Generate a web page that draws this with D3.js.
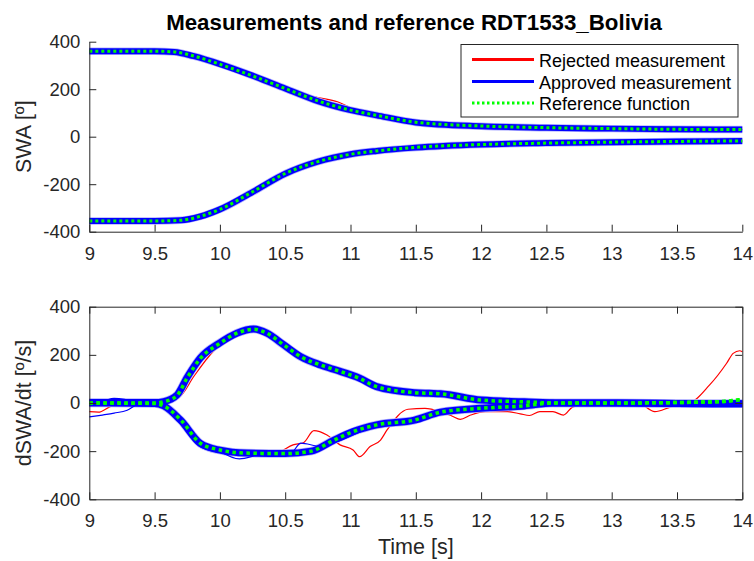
<!DOCTYPE html>
<html>
<head>
<meta charset="utf-8">
<script src="https://cdn.jsdelivr.net/npm/d3@7"></script>
<style>
    body { margin: 0; background: #fff; }
    svg { font-family: "Liberation Sans", Arial, sans-serif; }
</style>
</head>
<body>
<svg id="chart" width="754" height="561"></svg>
<script>

// ---- data (time [s], value) ----

const xTicks = [9, 9.5, 10, 10.5, 11, 11.5, 12, 12.5, 13, 13.5, 14]
const xTickLabels = ['9', '9.5', '10', '10.5', '11', '11.5', '12', '12.5', '13', '13.5', '14']
const yTicks = [-400, -200, 0, 200, 400]
const yTickLabels = ['-400', '-200', '0', '200', '400']

const legendLabels = ['Rejected measurement', 'Approved measurement', 'Reference function']

// SWA [deg]
const swaRejectedUp = [[9, 360], [9.5, 360], [9.65, 357], [9.8, 340], [10, 305], [10.25, 255], [10.5, 203], [10.6, 185],
    [10.75, 165], [10.9, 147], [11.05, 110], [11.2, 90], [11.5, 62], [12, 45], [12.5, 32], [13, 24], [13.5, 21], [13.75, 20], [14, 30]]
const swaRejectedLow = [[9, -355], [9.5, -355], [9.7, -352], [9.85, -335], [10, -306], [10.25, -232], [10.5, -156],
    [10.75, -105], [11, -74], [11.2, -60], [11.5, -45], [12, -33], [12.5, -27], [13, -23], [13.5, -20], [14, -18]]
const swaApprovedUp = [[9, 360], [9.5, 360], [9.65, 357], [9.8, 339], [10, 306], [10.25, 257], [10.5, 203], [10.75, 150],
    [11, 112], [11.2, 90], [11.5, 60], [12, 44], [12.5, 38], [13, 34], [13.5, 31], [14, 30]]
const swaApprovedLow = [[9, -355], [9.5, -355], [9.7, -352], [9.85, -336], [10, -306], [10.25, -233], [10.5, -156],
    [10.75, -105], [11, -74], [11.2, -60], [11.5, -46], [12, -33], [12.5, -27], [13, -23], [13.5, -20], [14, -18]]
const swaReferenceUp = [[9, 360], [9.5, 360], [9.65, 357], [9.8, 340], [10, 305], [10.25, 256], [10.5, 203], [10.75, 151],
    [11, 112], [11.2, 90], [11.5, 61], [12, 45], [12.5, 38], [13, 34], [13.5, 31], [14, 30]]
const swaReferenceLow = [[9, -355], [9.5, -355], [9.7, -352], [9.85, -335], [10, -306], [10.25, -232], [10.5, -155],
    [10.75, -105], [11, -74], [11.2, -60], [11.5, -45], [12, -33], [12.5, -27], [13, -23], [13.5, -20], [14, -18]]

// dSWA/dt [deg/s]
const rateRejectedUp = [[9, 0], [9.5, 0], [9.6, 8], [9.7, 30], [9.8, 110], [9.95, 215], [10.1, 278], [10.25, 300], [10.35, 295],
    [10.5, 245], [10.65, 195], [10.8, 152], [10.95, 125], [11.1, 95], [11.3, 62], [11.5, 45], [11.7, 38], [12.05, 22],
    [12.3, 5], [12.6, 0], [13, 0], [13.4, 0], [13.59, 2], [13.75, 75], [13.88, 165], [13.93, 206], [13.98, 217], [14, 213]]
const rateRejectedLow = [[9, -36], [9.07, -38], [9.16, -15], [9.24, -4], [9.5, -2], [9.57, -12], [9.7, -70], [9.85, -165],
    [10, -195], [10.2, -210], [10.3, -222], [10.46, -202], [10.56, -174], [10.64, -165], [10.72, -115], [10.82, -133],
    [10.92, -174], [11.02, -195], [11.07, -223], [11.15, -181], [11.23, -154], [11.28, -112], [11.44, -26], [11.57, -22],
    [11.69, -36], [11.78, -55], [11.84, -68], [11.92, -50], [12.03, -36], [12.2, -36], [12.3, -45], [12.37, -52],
    [12.45, -36], [12.55, -36], [12.63, -50], [12.7, -17], [12.83, -2], [13.2, 0], [13.33, -36], [13.45, -17], [13.57, 0], [14, 0]]
const rateApprovedUp = [[9, 2], [9.5, 2], [9.57, 6], [9.67, 32], [9.75, 107], [9.85, 187], [10, 250], [10.13, 290],
    [10.26, 307], [10.36, 290], [10.49, 241], [10.62, 192], [10.77, 158], [10.87, 140], [11.07, 103], [11.2, 68],
    [11.49, 43], [11.6, 40], [11.69, 38], [12, 12], [12.33, 5], [12.6, 0], [13, 0], [13.5, -2], [14, -3]]
const rateApprovedLow = [[9, 0], [9.5, -2], [9.57, -12], [9.7, -72], [9.85, -168], [10, -196], [10.2, -208], [10.5, -210],
    [10.7, -200], [10.87, -155], [11.02, -119], [11.2, -91], [11.49, -71], [11.69, -38], [12, -22], [12.33, -12],
    [12.55, 0], [13, 0], [13.5, -2], [14, -3]]
const rateApprovedA = [[9, -58], [9.1, -50], [9.19, -42], [9.29, -30], [9.37, -6], [9.45, 0], [9.55, -4]]
const rateApprovedB = [[9, 5], [9.1, 8], [9.19, 19], [9.27, 15], [9.35, 5], [9.45, 2]]
const rateApprovedC = [[10, -200], [10.15, -232], [10.3, -215], [10.45, -207], [10.54, -209], [10.62, -167],
    [10.77, -180], [10.9, -160], [11.05, -125], [11.2, -92]]
const rateApprovedD = [[9.55, -8], [9.7, -88], [9.85, -182], [10, -205], [10.15, -212]]
const rateReferenceUp = [[9, 0], [9.5, 0], [9.57, 5], [9.67, 30], [9.75, 105], [9.85, 185], [10, 248], [10.13, 290],
    [10.26, 306], [10.36, 290], [10.49, 241], [10.62, 192], [10.77, 158], [10.87, 140], [11.07, 102], [11.2, 68],
    [11.49, 43], [11.69, 38], [12, 12], [12.33, 5], [12.6, 0], [13, 0], [13.8, 5], [14, 15]]
const rateReferenceLow = [[9, 0], [9.5, -2], [9.57, -12], [9.7, -70], [9.85, -167], [10, -195], [10.2, -208], [10.5, -210],
    [10.7, -200], [10.87, -155], [11.02, -119], [11.2, -91], [11.49, -71], [11.69, -38], [12, -22], [12.33, -12],
    [12.55, 0], [13, 0], [13.8, 5], [14, 15]]

// ---- drawing ----

const RED = '#ff0000', BLUE = '#0000ff', GREEN = '#00ff00', AXIS = '#262626', HALO = '#b4b4ff'

const svg = d3.select('#chart')

const x = d3.scaleLinear().domain([9, 14]).range([89.3, 742.3])
const yTop = d3.scaleLinear().domain([-400, 400]).range([231.7, 41.7])
const yBot = d3.scaleLinear().domain([-400, 400]).range([499.3, 306.7])

function drawLine(g, data, y, color, width, dash) {
    let line = d3.line()
        .x(d => x(d[0]))
        .y(d => y(d[1]))
        .curve(d3.curveMonotoneX)
    g.append('path')
        .attr('d', line(data))
        .attr('fill', 'none')
        .attr('stroke', color)
        .attr('stroke-width', width)
        .attr('stroke-dasharray', dash || null)
        .attr('stroke-linejoin', 'round')
}

function styleAxis(g, showText) {
    g.select('.domain').attr('stroke', AXIS).attr('stroke-width', 1)
    g.selectAll('.tick line').attr('stroke', AXIS).attr('stroke-width', 1)
    g.selectAll('.tick text')
        .attr('fill', AXIS)
        .attr('font-size', '18.5px')
        .attr('font-family', '"Liberation Sans", Arial, sans-serif')
        .style('display', showText ? null : 'none')
}

function xAxis(g, yPos, axisFn, showText) {
    g.append('g')
        .attr('transform', `translate(0,${yPos})`)
        .call(axisFn(x).tickValues(xTicks).tickFormat((d, i) => xTickLabels[i])
            .tickSizeInner(-7).tickSizeOuter(0).tickPadding(15))
        .call(a => styleAxis(a, showText))
}

function yAxis(g, y, xPos, axisFn, showText) {
    g.append('g')
        .attr('transform', `translate(${xPos},0)`)
        .call(axisFn(y).tickValues(yTicks).tickFormat((d, i) => yTickLabels[i])
            .tickSizeInner(-7).tickSizeOuter(0).tickPadding(9))
        .call(a => styleAxis(a, showText))
}

// top subplot
let topPlot = svg.append('g')
drawLine(topPlot, swaRejectedUp, yTop, RED, 1.2)
drawLine(topPlot, swaRejectedLow, yTop, RED, 1.2)
drawLine(topPlot, swaApprovedUp, yTop, HALO, 7.5)
drawLine(topPlot, swaApprovedLow, yTop, HALO, 7.5)
drawLine(topPlot, swaApprovedUp, yTop, BLUE, 6)
drawLine(topPlot, swaApprovedLow, yTop, BLUE, 6)
drawLine(topPlot, swaReferenceUp, yTop, GREEN, 3, '3,3')
drawLine(topPlot, swaReferenceLow, yTop, GREEN, 3, '3,3')

xAxis(topPlot, yTop(-400), d3.axisBottom, true)
yAxis(topPlot, yTop, x(9), d3.axisLeft, true)

// bottom subplot
let botPlot = svg.append('g')
drawLine(botPlot, rateRejectedUp, yBot, RED, 1.2)
drawLine(botPlot, rateRejectedLow, yBot, RED, 1.2)
drawLine(botPlot, rateApprovedUp, yBot, HALO, 8.5)
drawLine(botPlot, rateApprovedLow, yBot, HALO, 8.5)
drawLine(botPlot, rateApprovedUp, yBot, BLUE, 7)
drawLine(botPlot, rateApprovedLow, yBot, BLUE, 7)
for (let s of [rateApprovedA, rateApprovedB, rateApprovedC, rateApprovedD]) drawLine(botPlot, s, yBot, BLUE, 1.2)
drawLine(botPlot, rateReferenceUp, yBot, GREEN, 3.5, '3.5,3.5')
drawLine(botPlot, rateReferenceLow, yBot, GREEN, 3.5, '3.5,3.5')

xAxis(botPlot, yBot(-400), d3.axisBottom, true)
xAxis(botPlot, yBot(400), d3.axisTop, false)
yAxis(botPlot, yBot, x(9), d3.axisLeft, true)
yAxis(botPlot, yBot, x(14), d3.axisRight, false)

// labels
svg.append('text')
    .attr('x', 414).attr('y', 30)
    .attr('text-anchor', 'middle')
    .attr('font-size', '22.3px').attr('font-weight', 'bold')
    .attr('fill', '#000')
    .text('Measurements and reference RDT1533_Bolivia')

svg.append('text')
    .attr('transform', `translate(30.5,${yTop(0)}) rotate(-90)`)
    .attr('text-anchor', 'middle')
    .attr('font-size', '21.5px').attr('fill', AXIS)
    .text('SWA [º]')

svg.append('text')
    .attr('transform', `translate(30.5,${yBot(0)}) rotate(-90)`)
    .attr('text-anchor', 'middle')
    .attr('font-size', '21.5px').attr('fill', AXIS)
    .text('dSWA/dt [º/s]')

svg.append('text')
    .attr('x', (x(9) + x(14)) / 2).attr('y', 554)
    .attr('text-anchor', 'middle')
    .attr('font-size', '21.5px').attr('fill', AXIS)
    .text('Time [s]')

// legend
let legend = svg.append('g')
legend.append('rect')
    .attr('x', 461).attr('y', 44.5).attr('width', 277).attr('height', 72.5)
    .attr('fill', '#fff').attr('stroke', AXIS).attr('stroke-width', 1)

let legendStyles = [
    { color: RED, width: 3, dash: null },
    { color: BLUE, width: 3, dash: null },
    { color: GREEN, width: 3, dash: '2.5,2.5' }
]
let legendRows = [59.5, 81.5, 103]

legendLabels.forEach((label, i) => {
    legend.append('line')
        .attr('x1', 472).attr('x2', 534)
        .attr('y1', legendRows[i]).attr('y2', legendRows[i])
        .attr('stroke', legendStyles[i].color)
        .attr('stroke-width', legendStyles[i].width)
        .attr('stroke-dasharray', legendStyles[i].dash)
    legend.append('text')
        .attr('x', 539).attr('y', legendRows[i] + 7)
        .attr('font-size', '18px').attr('fill', '#000')
        .text(label)
})

</script>
</body>
</html>
